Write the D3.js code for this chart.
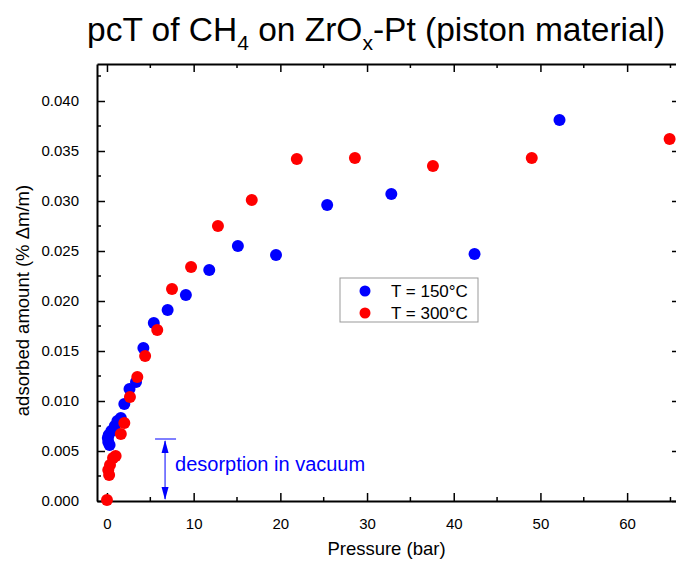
<!DOCTYPE html>
<html>
<head>
<meta charset="utf-8">
<script src="https://cdn.jsdelivr.net/npm/d3@7"></script>
<style>
  body { margin: 0; background: #fff; }
  svg { font-family: "Liberation Sans", Arial, sans-serif; }
</style>
</head>
<body>
<div id="chart"></div>
<script>
// data
const p150 = [0.3, 0.15, 0.1, 0.2, 0.5, 0.9, 1.2, 1.6, 2.0, 2.6, 3.35, 4.2, 5.4, 7.0, 9.1, 11.8, 15.1, 19.5, 25.4, 32.8, 42.4, 52.2];
const a150 = [0.0056, 0.0059, 0.0063, 0.0066, 0.0070, 0.0075, 0.0080, 0.0083, 0.0097, 0.0112, 0.0119, 0.0153, 0.0178, 0.0191, 0.0206, 0.0231, 0.0255, 0.0246, 0.0296, 0.0307, 0.0247, 0.0381];
const p300 = [0.0, 0.25, 0.15, 0.35, 0.7, 1.0, 1.6, 2.0, 2.65, 3.5, 4.4, 5.8, 7.5, 9.7, 12.8, 16.7, 21.9, 28.6, 37.6, 49.0, 64.9];
const a300 = [0.0001, 0.0026, 0.0031, 0.0036, 0.0043, 0.0045, 0.0067, 0.0078, 0.0104, 0.0124, 0.0145, 0.0171, 0.0212, 0.0234, 0.0275, 0.0301, 0.0342, 0.0343, 0.0335, 0.0343, 0.0362];
const seriesNames = ["T = 150\u00B0C", "T = 300\u00B0C"];
const seriesColors = ["#0000ff", "#ff0000"];
const xTicks = [0, 10, 20, 30, 40, 50, 60];
const yTicks = [0, 0.005, 0.010, 0.015, 0.020, 0.025, 0.030, 0.035, 0.040];

const width = 676, height = 561;
const plotL = 97, plotR = 680, plotT = 64, plotB = 501;

const svg = d3.select("#chart").append("svg")
  .attr("width", width)
  .attr("height", height);

const x = d3.scaleLinear().domain([-1.15, 66.1]).range([plotL, plotR]);
const y = d3.scaleLinear().domain([0, 0.0437]).range([plotB, plotT]);

const xMinor = d3.range(5, 66, 10);
const yMinor = d3.range(0.0025, 0.0437, 0.005);

// axes, ticks inward
function axisStyle(g) {
  g.select(".domain").attr("stroke", "#000").attr("stroke-width", 2);
  g.selectAll(".tick line").attr("stroke", "#000").attr("stroke-width", 1.5);
}

svg.append("g")
  .attr("transform", `translate(0,${plotB})`)
  .call(d3.axisBottom(x).tickValues(xTicks).tickSizeInner(-8).tickSizeOuter(0).tickPadding(17).tickFormat(d3.format("d")))
  .call(axisStyle)
  .call(g => g.selectAll("text").attr("font-size", 15).attr("fill", "#000"));

svg.append("g")
  .attr("transform", `translate(${plotL},0)`)
  .call(d3.axisLeft(y).tickValues(yTicks).tickSizeInner(-8).tickSizeOuter(0).tickPadding(18).tickFormat(d3.format(".3f")))
  .call(axisStyle)
  .call(g => g.selectAll("text").attr("font-size", 15).attr("fill", "#000"));

svg.append("g")
  .attr("transform", `translate(0,${plotT})`)
  .call(d3.axisTop(x).tickValues(xTicks).tickSizeInner(-8).tickSizeOuter(0).tickFormat(""))
  .call(axisStyle);

svg.append("g")
  .attr("transform", `translate(${plotR},0)`)
  .call(d3.axisRight(y).tickValues(yTicks).tickSizeInner(-8).tickSizeOuter(0).tickFormat(""))
  .call(axisStyle);

// minor ticks
svg.append("g").selectAll("line").data(xMinor).join("line")
  .attr("x1", d => x(d)).attr("x2", d => x(d))
  .attr("y1", plotB).attr("y2", plotB - 4)
  .attr("stroke", "#000").attr("stroke-width", 1.5);
svg.append("g").selectAll("line").data(xMinor).join("line")
  .attr("x1", d => x(d)).attr("x2", d => x(d))
  .attr("y1", plotT).attr("y2", plotT + 4)
  .attr("stroke", "#000").attr("stroke-width", 1.5);
svg.append("g").selectAll("line").data(yMinor).join("line")
  .attr("x1", plotL).attr("x2", plotL + 4)
  .attr("y1", d => y(d)).attr("y2", d => y(d))
  .attr("stroke", "#000").attr("stroke-width", 1.5);
svg.append("g").selectAll("line").data(yMinor).join("line")
  .attr("x1", plotR).attr("x2", plotR - 4)
  .attr("y1", d => y(d)).attr("y2", d => y(d))
  .attr("stroke", "#000").attr("stroke-width", 1.5);

// points
const s150 = p150.map((p, i) => ({ p, a: a150[i] }));
const s300 = p300.map((p, i) => ({ p, a: a300[i] }));

svg.append("g").selectAll("circle").data(s150).join("circle")
  .attr("cx", d => x(d.p)).attr("cy", d => y(d.a)).attr("r", 6)
  .attr("fill", seriesColors[0]);
svg.append("g").selectAll("circle").data(s300).join("circle")
  .attr("cx", d => x(d.p)).attr("cy", d => y(d.a)).attr("r", 6)
  .attr("fill", seriesColors[1]);

// legend
const legend = svg.append("g").attr("transform", "translate(340,278)");
legend.append("rect")
  .attr("width", 138).attr("height", 44)
  .attr("fill", "#fff").attr("stroke", "#999").attr("stroke-width", 1);
seriesNames.forEach((name, i) => {
  legend.append("circle")
    .attr("cx", 25).attr("cy", 13 + i * 22).attr("r", 5.5)
    .attr("fill", seriesColors[i]);
  legend.append("text")
    .attr("x", 51).attr("y", 19 + i * 22)
    .attr("font-size", 17)
    .text(name);
});

// desorption annotation
const ax = x(6.7);
const ann = svg.append("g").attr("stroke", "#0000ff").attr("fill", "#0000ff");
ann.append("line")
  .attr("x1", ax - 10).attr("x2", ax + 11)
  .attr("y1", y(0.0062)).attr("y2", y(0.0062))
  .attr("stroke-width", 1);
ann.append("line")
  .attr("x1", ax).attr("x2", ax)
  .attr("y1", y(0.0062) + 2).attr("y2", y(0) - 2)
  .attr("stroke-width", 1);
ann.append("path")
  .attr("d", `M${ax},${y(0.0062) + 1} l-3.5,13 l7,0 z`).attr("stroke", "none");
ann.append("path")
  .attr("d", `M${ax},${y(0) - 1} l-3.5,-13 l7,0 z`).attr("stroke", "none");
svg.append("text")
  .attr("x", ax + 10).attr("y", y(0.003))
  .attr("font-size", 20).attr("fill", "#0000ff")
  .text("desorption in vacuum");

// axis titles
svg.append("text")
  .attr("x", (plotL + 680) / 2 - 2).attr("y", 555)
  .attr("text-anchor", "middle").attr("font-size", 18.5)
  .text("Pressure (bar)");
svg.append("text")
  .attr("transform", `translate(29,${(plotT + plotB) / 2 + 18}) rotate(-90)`)
  .attr("text-anchor", "middle").attr("font-size", 18.5)
  .text("adsorbed amount (% \u0394m/m)");

// title with subscripts
const title = svg.append("text")
  .attr("x", 87).attr("y", 41)
  .attr("font-size", 33.5);
title.append("tspan").text("pcT of CH");
title.append("tspan").attr("font-size", 21).attr("dy", 9).text("4");
title.append("tspan").attr("dy", -9).text(" on ZrO");
title.append("tspan").attr("font-size", 21).attr("dy", 9).text("x");
title.append("tspan").attr("dy", -9).text("-Pt (piston material)");
</script>
</body>
</html>
